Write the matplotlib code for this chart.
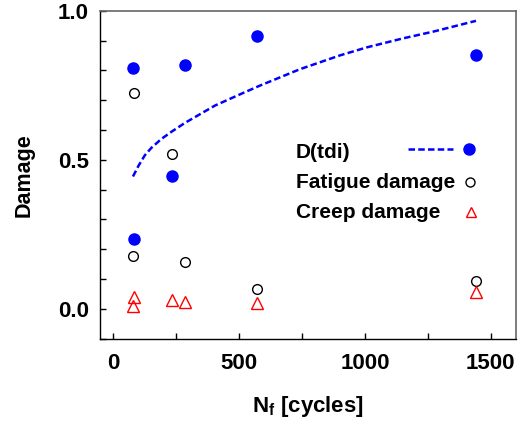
import numpy as np
import matplotlib
matplotlib.use('Agg')
import matplotlib.pyplot as plt

params = {
    'font.family': 'Liberation Sans',
    'font.weight': 'bold',
    'mathtext.fontset': 'custom',
    'mathtext.rm': 'Liberation Sans:bold',
    'mathtext.bf': 'Liberation Sans:bold',
}
matplotlib.rcParams.update(params)

# ----- data -----
nf_tdi = [77, 82, 232, 286, 572, 1441]
d_tdi = [0.809, 0.234, 0.446, 0.817, 0.915, 0.851]

nf_fat = [82, 77, 232, 286, 572, 1441]
d_fat = [0.723, 0.178, 0.520, 0.157, 0.065, 0.092]

nf_creep = [82, 77, 232, 286, 572, 1441]
d_creep = [0.040, 0.009, 0.031, 0.022, 0.020, 0.055]

# D(tdi) curve
curve_nf = [78, 100, 125, 151, 191, 231, 285, 404, 510, 583, 742, 900, 1007, 1150, 1272, 1441]
curve_d = [0.444, 0.480, 0.515, 0.540, 0.570, 0.594, 0.624, 0.682, 0.722, 0.749, 0.804, 0.850, 0.877, 0.907, 0.930, 0.966]

labels = ['D(tdi)', 'Fatigue damage', 'Creep damage']

# ----- figure -----
fig = plt.figure(figsize=(5.22, 4.23), dpi=100)
ax = fig.add_axes([0.1916, 0.1993, 0.9885 - 0.1916, 0.9747 - 0.1993])

dash = (0, (2.6, 1.3))
ax.plot(curve_nf, curve_d, color='blue', lw=1.8, ls=dash)
ax.plot(nf_tdi, d_tdi, 'o', color='blue', ms=8, mec='blue', ls='none')
ax.plot(nf_fat, d_fat, 'o', mfc='none', mec='black', ms=7, mew=1.0, ls='none')
ax.plot(nf_creep, d_creep, '^', mfc='none', mec='red', ms=8, mew=1.0, ls='none')

ax.set_xlim(-53, 1600)
ax.set_ylim(-0.1, 1.0)
ax.set_xticks([0, 500, 1000, 1500])
ax.set_xticks([250, 750, 1250], minor=True)
ax.set_yticks([0.0, 0.5, 1.0])
ax.set_yticks([-0.1, 0.1, 0.2, 0.3, 0.4, 0.6, 0.7, 0.8, 0.9], minor=True)
ax.set_yticklabels(['0.0', '0.5', '1.0'])
ax.tick_params(which='both', direction='in', length=4.5, width=1.0, top=False, right=False)
ax.tick_params(axis='x', labelsize=16, pad=10)
ax.tick_params(axis='y', labelsize=16, pad=8)
for lab in ax.get_xticklabels() + ax.get_yticklabels():
    lab.set_fontweight('bold')

for side in ['top', 'right']:
    ax.spines[side].set_color('#666666')
    ax.spines[side].set_linewidth(1.2)
for side in ['left', 'bottom']:
    ax.spines[side].set_linewidth(1.0)

ax.set_ylabel('Damage', fontsize=15.5, fontweight='bold', labelpad=17)
ax.set_xlabel(r'N$_\mathregular{f}$ [cycles]', fontsize=16, fontweight='bold', labelpad=15)

# ----- legend drawn by hand (text left, symbols right) -----
ty = [0.567, 0.476, 0.385]
for lab, y in zip(labels, ty):
    ax.text(0.471, y, lab, transform=ax.transAxes, fontsize=15, fontweight='bold',
            va='center', ha='left')
ax.plot([0.740, 0.849], [0.578, 0.578], transform=ax.transAxes, color='blue',
        lw=1.8, ls=dash, clip_on=False)
ax.plot([0.887], [0.578], 'o', transform=ax.transAxes, color='blue', ms=8, clip_on=False)
ax.plot([0.889], [0.477], 'o', transform=ax.transAxes, mfc='none', mec='black',
        ms=6.5, mew=1.0, clip_on=False)
ax.plot([0.892], [0.387], '^', transform=ax.transAxes, mfc='none', mec='red',
        ms=7.5, mew=1.0, clip_on=False)

fig.savefig('out.png', dpi=100)
